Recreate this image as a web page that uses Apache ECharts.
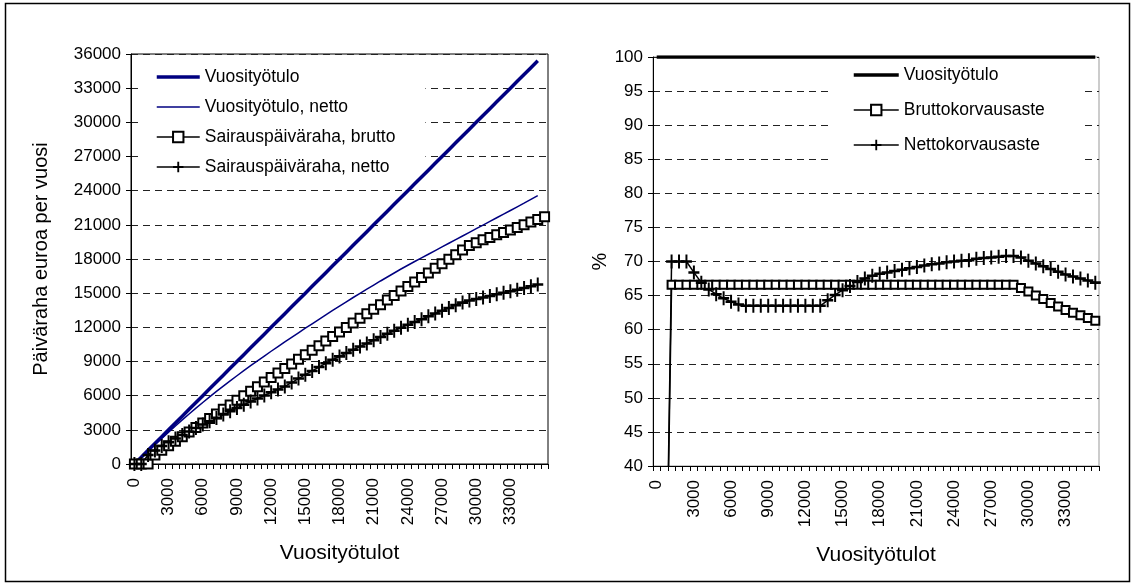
<!DOCTYPE html>
<html>
<head>
<meta charset="utf-8">
<script src="https://cdn.jsdelivr.net/npm/echarts@6/dist/echarts.min.js"></script>
<style>
html, body { margin: 0; padding: 0; background: #fff; }
#chart { width: 1132px; height: 585px; }
</style>
</head>
<body>
<div id="chart"></div>
<script>
var myChart = echarts.init(document.getElementById('chart'));

// vuosityötulot (x-akseli)
var incomes = [0, 600, 1200, 1800, 2400, 3000, 3600, 4200, 4800, 5400,
    6000, 6600, 7200, 7800, 8400, 9000, 9600, 10200, 10800, 11400,
    12000, 12600, 13200, 13800, 14400, 15000, 15600, 16200, 16800, 17400,
    18000, 18600, 19200, 19800, 20400, 21000, 21600, 22200, 22800, 23400,
    24000, 24600, 25200, 25800, 26400, 27000, 27600, 28200, 28800, 29400,
    30000, 30600, 31200, 31800, 32400, 33000, 33600, 34200, 34800, 35400];
var leftCategories = incomes.concat(['']); // vasemmassa kuvassa yksi tyhjä luokka lopussa

// vasen kuva, euroa per vuosi
var tyotulo = [0, 600, 1200, 1800, 2400, 3000, 3600, 4200, 4800, 5400,
    6000, 6600, 7200, 7800, 8400, 9000, 9600, 10200, 10800, 11400,
    12000, 12600, 13200, 13800, 14400, 15000, 15600, 16200, 16800, 17400,
    18000, 18600, 19200, 19800, 20400, 21000, 21600, 22200, 22800, 23400,
    24000, 24600, 25200, 25800, 26400, 27000, 27600, 28200, 28800, 29400,
    30000, 30600, 31200, 31800, 32400, 33000, 33600, 34200, 34800, 35400];
var tyotuloNetto = [0, 565, 1130, 1690, 2250, 2800, 3340, 3870, 4390, 4900,
    5400, 5890, 6370, 6840, 7300, 7750, 8190, 8630, 9060, 9480,
    9900, 10310, 10720, 11120, 11520, 11920, 12310, 12700, 13090, 13480,
    13860, 14240, 14620, 14990, 15350, 15710, 16070, 16420, 16770, 17120,
    17450, 17780, 18100, 18420, 18740, 19060, 19380, 19700, 20020, 20340,
    20660, 20980, 21300, 21620, 21940, 22260, 22580, 22900, 23230, 23560];
var paivarahaBrutto = [0, 0, 0, 800, 1200, 1600, 2000, 2400, 2800, 3200,
    3600, 4000, 4400, 4800, 5190, 5590, 5990, 6390, 6790, 7190,
    7590, 7990, 8390, 8790, 9190, 9590, 9990, 10390, 10790, 11190,
    11590, 11990, 12390, 12790, 13190, 13590, 13990, 14390, 14790, 15180,
    15580, 15980, 16380, 16780, 17180, 17580, 17980, 18380, 18780, 19180,
    19420, 19680, 19890, 20120, 20320, 20540, 20760, 21000, 21240, 21470,
    21700];
var paivarahaNetto = [0, 0, 790, 1180, 1580, 1920, 2230, 2550, 2860, 3170,
    3460, 3750, 4050, 4340, 4640, 4920, 5200, 5480, 5750, 6020,
    6290, 6550, 6810, 7150, 7500, 7840, 8170, 8510, 8840, 9150,
    9450, 9740, 10030, 10310, 10590, 10870, 11150, 11430, 11690, 11970,
    12220, 12460, 12710, 12970, 13210, 13460, 13700, 13950, 14170, 14360,
    14480, 14620, 14760, 14900, 15030, 15160, 15310, 15460, 15610, 15760];

// oikea kuva, %
var tyotuloPct = [100, 100, 100, 100, 100, 100, 100, 100, 100, 100,
    100, 100, 100, 100, 100, 100, 100, 100, 100, 100,
    100, 100, 100, 100, 100, 100, 100, 100, 100, 100,
    100, 100, 100, 100, 100, 100, 100, 100, 100, 100,
    100, 100, 100, 100, 100, 100, 100, 100, 100, 100,
    100, 100, 100, 100, 100, 100, 100, 100, 100, 100];
var bruttoPct = [0, 0, 66.6, 66.6, 66.6, 66.6, 66.6, 66.6, 66.6, 66.6,
    66.6, 66.6, 66.6, 66.6, 66.6, 66.6, 66.6, 66.6, 66.6, 66.6,
    66.6, 66.6, 66.6, 66.6, 66.6, 66.6, 66.6, 66.6, 66.6, 66.6,
    66.6, 66.6, 66.6, 66.6, 66.6, 66.6, 66.6, 66.6, 66.6, 66.6,
    66.6, 66.6, 66.6, 66.6, 66.6, 66.6, 66.6, 66.6, 66.6, 66.1,
    65.6, 65.0, 64.5, 63.9, 63.4, 62.9, 62.5, 62.1, 61.7, 61.3];
var nettoPct = [0, 0, 70, 70, 70, 68.4, 66.9, 65.9, 65.2, 64.6,
    64.1, 63.7, 63.5, 63.5, 63.5, 63.5, 63.5, 63.5, 63.5, 63.5,
    63.5, 63.5, 63.5, 64.3, 65.1, 65.8, 66.4, 67.0, 67.5, 67.9,
    68.2, 68.4, 68.6, 68.8, 69.0, 69.2, 69.4, 69.6, 69.7, 69.9,
    70.0, 70.1, 70.2, 70.4, 70.5, 70.6, 70.7, 70.8, 70.8, 70.6,
    70.1, 69.7, 69.3, 68.9, 68.5, 68.1, 67.8, 67.5, 67.2, 66.9];

var font = 'Liberation Sans, Arial, sans-serif';
var plusSymbol = 'path://M41,0H59V41H100V59H59V100H41V59H0V41H41Z';
var gridDash = { color: '#222', width: 1, type: [7, 5] };

function xAxisOpt(idx, cats) {
    return {
        type: 'category',
        gridIndex: idx,
        data: cats,
        boundaryGap: true,
        name: 'Vuosityötulot',
        nameLocation: 'middle',
        nameGap: 79,
        nameTextStyle: { color: '#000', fontSize: 21, fontFamily: font },
        axisLine: { lineStyle: { color: '#000', width: 1 } },
        axisTick: { show: true, interval: 0, length: 5, lineStyle: { color: '#000' } },
        axisLabel: { interval: 4, rotate: 90, margin: 14, color: '#000', fontSize: 17, fontFamily: font },
        splitLine: { show: false }
    };
}

function yAxisOpt(idx, min, max, step, name, gap) {
    return {
        type: 'value',
        gridIndex: idx,
        min: min,
        max: max,
        interval: step,
        name: name,
        nameLocation: 'middle',
        nameGap: gap,
        nameRotate: 90,
        nameTextStyle: { color: '#000', fontSize: 20, fontFamily: font },
        axisLine: { show: true, lineStyle: { color: '#000', width: 1 } },
        axisTick: { show: true, length: 5, lineStyle: { color: '#000' } },
        axisLabel: {
            margin: 10, color: '#000', fontSize: 17, fontFamily: font,
            formatter: function (v) { return String(v); }
        },
        splitLine: { show: true, lineStyle: gridDash }
    };
}

option = {
    backgroundColor: '#fff',
    animation: false,
    graphic: [{
        type: 'rect',
        shape: { x: 5.5, y: 3.5, width: 1124, height: 578 },
        style: { fill: 'none', stroke: '#000', lineWidth: 1.5 },
        silent: true
    }],
    grid: [
        { left: 131, top: 54, width: 417, height: 410, show: true, borderColor: '#000', borderWidth: 1 },
        { left: 653, top: 57, width: 446, height: 409, show: true, borderColor: '#999', borderWidth: 1 }
    ],
    legend: [{
        orient: 'vertical',
        z: 1, // valkoinen tausta peittää ruudukon mutta ei viivoja
        left: 140,
        top: 62,
        padding: [6, 30, 5, 15],
        backgroundColor: '#fff',
        itemWidth: 43,
        itemHeight: 13,
        itemGap: 12,
        data: [
            { name: 'Vuosityötulo', itemStyle: { opacity: 0 }, lineStyle: { width: 3.5 } },
            { name: 'Vuosityötulo, netto', itemStyle: { opacity: 0 }, lineStyle: { width: 1.5 } },
            { name: 'Sairauspäiväraha, brutto', lineStyle: { width: 1.5 } },
            { name: 'Sairauspäiväraha, netto', lineStyle: { width: 1.5 } }
        ],
        textStyle: { color: '#000', fontSize: 17.5, fontFamily: font, lineHeight: 17 }
    }, {
        orient: 'vertical',
        z: 1,
        left: 828,
        top: 60,
        padding: [6, 37, 6, 24],
        backgroundColor: '#fff',
        itemWidth: 45,
        itemHeight: 13,
        itemGap: 17,
        data: [
            { name: 'Vuosityötulo ', itemStyle: { opacity: 0 }, lineStyle: { width: 3.5 } },
            { name: 'Bruttokorvausaste', lineStyle: { width: 1.5 } },
            { name: 'Nettokorvausaste', lineStyle: { width: 1.5 } }
        ],
        textStyle: { color: '#000', fontSize: 17.5, fontFamily: font, lineHeight: 17 }
    }],
    xAxis: [xAxisOpt(0, leftCategories), xAxisOpt(1, incomes)],
    yAxis: [
        yAxisOpt(0, 0, 36000, 3000, 'Päiväraha euroa per vuosi', 80),
        yAxisOpt(1, 40, 100, 5, '%', 42)
    ],
    series: [{
        name: 'Vuosityötulo',
        type: 'line',
        xAxisIndex: 0, yAxisIndex: 0,
        data: tyotulo,
        symbol: 'none',
        lineStyle: { color: '#000080', width: 3.5 },
        itemStyle: { color: '#000080' }
    }, {
        name: 'Vuosityötulo, netto',
        type: 'line',
        xAxisIndex: 0, yAxisIndex: 0,
        data: tyotuloNetto,
        symbol: 'none',
        lineStyle: { color: '#000080', width: 1.5 },
        itemStyle: { color: '#000080' }
    }, {
        name: 'Sairauspäiväraha, brutto',
        type: 'line',
        xAxisIndex: 0, yAxisIndex: 0,
        data: paivarahaBrutto,
        symbol: 'emptyRect',
        symbolSize: 9,
        showAllSymbol: true,
        lineStyle: { color: '#000', width: 1.5 },
        itemStyle: { color: '#000', borderColor: '#000', borderWidth: 1.6 }
    }, {
        name: 'Sairauspäiväraha, netto',
        type: 'line',
        xAxisIndex: 0, yAxisIndex: 0,
        data: paivarahaNetto,
        symbol: plusSymbol,
        symbolSize: [11, 14],
        showAllSymbol: true,
        lineStyle: { color: '#000', width: 1.5 },
        itemStyle: { color: '#000' }
    }, {
        name: 'Vuosityötulo ',
        type: 'line',
        xAxisIndex: 1, yAxisIndex: 1,
        data: tyotuloPct,
        symbol: 'none',
        lineStyle: { color: '#000', width: 3.5 },
        itemStyle: { color: '#000' }
    }, {
        name: 'Bruttokorvausaste',
        type: 'line',
        xAxisIndex: 1, yAxisIndex: 1,
        data: bruttoPct,
        symbol: 'emptyRect',
        symbolSize: 8,
        showAllSymbol: true,
        lineStyle: { color: '#000', width: 1.5 },
        itemStyle: { color: '#000', borderColor: '#000', borderWidth: 1.5 }
    }, {
        name: 'Nettokorvausaste',
        type: 'line',
        xAxisIndex: 1, yAxisIndex: 1,
        data: nettoPct,
        symbol: plusSymbol,
        symbolSize: [11, 14],
        showAllSymbol: true,
        lineStyle: { color: '#000', width: 1.5 },
        itemStyle: { color: '#000' }
    }]
};
myChart.setOption(option);
</script>
</body>
</html>
